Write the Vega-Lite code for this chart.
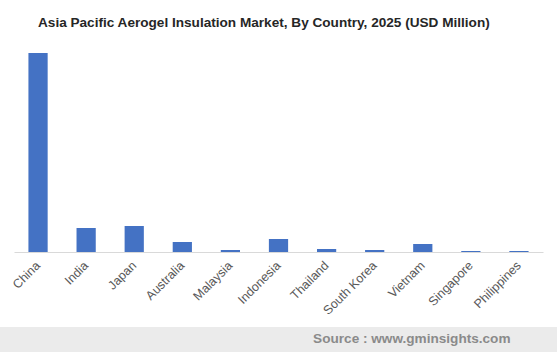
{
  "$schema": "https://vega.github.io/schema/vega-lite/v6.json",
  "width": 557,
  "height": 352,
  "autosize": "none",
  "padding": 0,
  "background": "white",
  "title": {
    "text": "Asia Pacific Aerogel Insulation Market, By Country, 2025 (USD Million)",
    "anchor": "start",
    "dx": 38,
    "dy": 14,
    "offset": -27,
    "baseline": "alphabetic",
    "font": "Liberation Sans",
    "fontSize": 13.6,
    "fontWeight": "bold",
    "color": "#262626"
  },
  "data": {
    "values": [
      {"country": "China", "value": 199},
      {"country": "India", "value": 24},
      {"country": "Japan", "value": 26},
      {"country": "Australia", "value": 10},
      {"country": "Malaysia", "value": 2},
      {"country": "Indonesia", "value": 13},
      {"country": "Thailand", "value": 3},
      {"country": "South Korea", "value": 2},
      {"country": "Vietnam", "value": 8},
      {"country": "Singapore", "value": 1},
      {"country": "Philippines", "value": 1}
    ]
  },
  "mark": {"type": "bar", "color": "#4472c4"},
  "encoding": {
    "x": {
      "field": "country",
      "type": "nominal",
      "sort": null,
      "scale": {"range": [14, 543], "paddingInner": 0.6, "paddingOuter": 0.3},
      "axis": {
        "title": "Source : www.gminsights.com",
        "titleX": 510,
        "titleY": 90,
        "titleAlign": "right",
        "titleBaseline": "alphabetic",
        "titleFont": "Liberation Sans",
        "titleFontSize": 13.6,
        "titleFontWeight": "bold",
        "titleColor": "#8a8a8a",
        "offset": -100,
        "labelAngle": -45,
        "labelAlign": "right",
        "labelBaseline": "middle",
        "labelPadding": 11,
        "labelFont": "Liberation Sans",
        "labelFontSize": 12.5,
        "labelColor": "#595959",
        "ticks": false,
        "domainColor": "#d9d9d9",
        "domainWidth": 1,
        "grid": false
      }
    },
    "y": {
      "field": "value",
      "type": "quantitative",
      "scale": {"domain": [0, 199], "range": [252, 53], "nice": false, "zero": true},
      "axis": null
    }
  },
  "config": {
    "view": {
      "stroke": null,
      "fill": {
        "gradient": "linear",
        "x1": 0, "y1": 0, "x2": 0, "y2": 1,
        "stops": [
          {"offset": 0, "color": "#ffffff"},
          {"offset": 0.9289, "color": "#ffffff"},
          {"offset": 0.929, "color": "#ebebeb"},
          {"offset": 1, "color": "#ebebeb"}
        ]
      }
    }
  }
}
